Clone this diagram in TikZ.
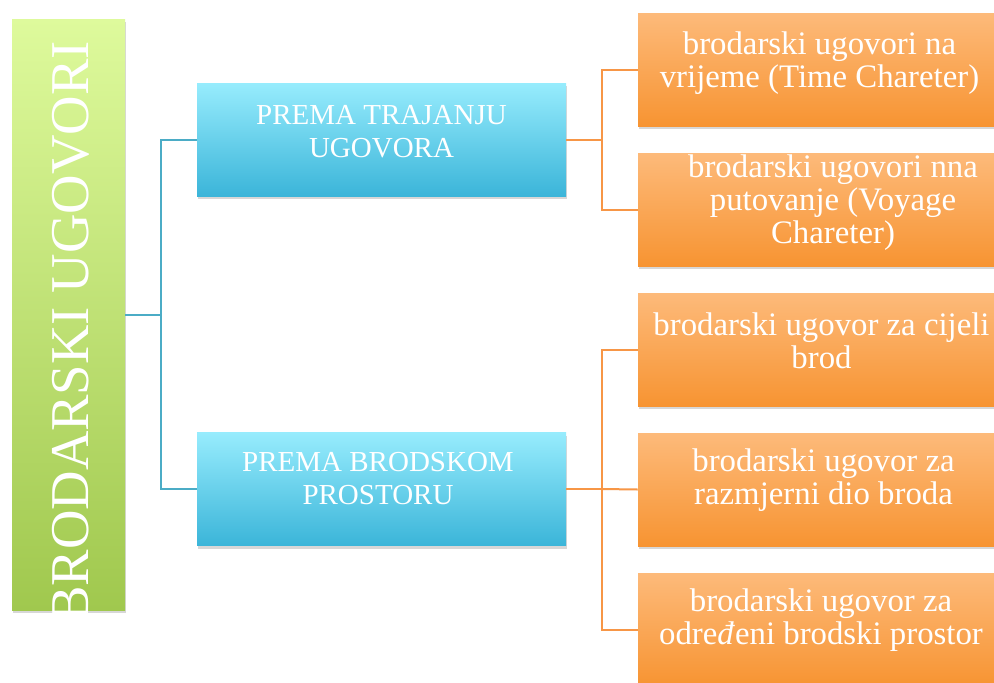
\documentclass[tikz,border=0pt]{standalone}
\usepackage{fontspec}
\setmainfont{Liberation Serif}
\usetikzlibrary{shadows}
\definecolor{gtop}{RGB}{222,250,156}
\definecolor{gbot}{RGB}{160,200,78}
\definecolor{btop}{RGB}{151,236,253}
\definecolor{bbot}{RGB}{59,181,217}
\definecolor{otop}{RGB}{253,186,122}
\definecolor{obot}{RGB}{247,148,50}
\definecolor{bl}{RGB}{75,172,198}
\definecolor{ol}{RGB}{247,150,70}
\tikzset{
  shad/.style={drop shadow={shadow xshift=0.6pt, shadow yshift=-2.5pt, opacity=0.22, fill=black!70}},
  gbox/.style={shad, top color=gtop, bottom color=gbot, minimum width=113*0.75pt, minimum height=591*0.75pt, inner sep=0pt},
  bbox/.style={shad, top color=btop, bottom color=bbot, minimum width=369*0.75pt, minimum height=113*0.75pt, inner sep=0pt},
  obox/.style={shad, top color=otop, bottom color=obot, minimum width=363*0.75pt, minimum height=113*0.75pt, inner sep=0pt},
  btext/.style={text=white, align=center, inner sep=0pt, font=\fontsize{21.75pt}{24.75pt}\selectfont},
  otext/.style={text=white, align=center, inner sep=0pt, font=\fontsize{24.6pt}{24.75pt}\selectfont},
  gtext/.style={text=white, inner sep=0pt, font=\fontsize{41pt}{44pt}\selectfont, rotate=90, anchor=base},
  bline/.style={draw=bl, line width=1.5pt},
  oline/.style={draw=ol, line width=1.5pt}
}
\begin{document}
\begin{tikzpicture}[x=0.75pt, y=-0.75pt]
\useasboundingbox (0,0) rectangle (994,682);
\clip (0,0) rectangle (994,682);
\fill[white] (0,0) rectangle (994,682);
% boxes
\node[gbox] (g) at (68.5,314.5) {};
\node[bbox] (b1) at (381.5,139.5) {};
\node[bbox] (b2) at (381.5,489) {};
\node[obox] (o1) at (819.5,69.5) {};
\node[obox] (o2) at (819.5,209.5) {};
\node[obox] (o3) at (819.5,349.5) {};
\node[obox] (o4) at (819.5,489.5) {};
\node[obox] (o5) at (819.5,629.5) {};
% texts
\node[gtext] (gt) at (88,332) {BRODARSKI UGOVORI};
\node[btext] (bt1) at (381.5,132) {PREMA TRAJANJU\\UGOVORA};
\node[btext] (bt2) at (378,479) {PREMA BRODSKOM\\PROSTORU};
\node[otext] (ot1) at (819.5,63.5) {brodarski ugovori na\\vrijeme (Time Chareter)};
\node[otext] (ot2) at (833,202.5) {brodarski ugovori nna\\putovanje (Voyage\\Chareter)};
\node[otext] (ot3) at (821.5,340.5) {brodarski ugovor za cijeli\\brod};
\node[otext] (ot4) at (823.5,480.5) {brodarski ugovor za\\razmjerni dio broda};
\node[otext] (ot5) at (821,620.5) {brodarski ugovor za\\odre\textit{đ}eni brodski prostor};
% connectors
\coordinate (bj) at (161,314.5);
\coordinate (oj1) at (602,139.5);
\coordinate (oj2) at (602,489);
\draw[bline] (g.east) -- (bj);
\draw[bline] (b1.west) -| (bj) |- (b2.west);
\draw[oline] (b1.east) -- (oj1);
\draw[oline] (o1.west) -| (oj1) |- (o2.west);
\draw[oline] (b2.east) -- (oj2);
\draw[oline] (o3.west) -| (oj2) |- (o5.west);
\draw[oline] (oj2) -- (o4.west);
\end{tikzpicture}
\end{document}
